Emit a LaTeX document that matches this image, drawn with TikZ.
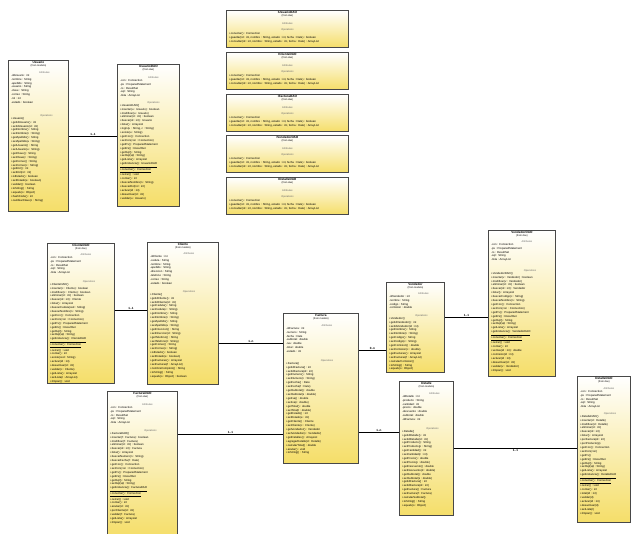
\documentclass[tikz,border=0pt]{standalone}
\usepackage{fontspec}
\setmainfont{Liberation Sans}
\usetikzlibrary{positioning}
\definecolor{umlyellow}{RGB}{245,222,105}
\definecolor{umlborder}{RGB}{72,72,72}

\begin{document}
\begin{tikzpicture}[
  x=1pt, y=-1pt,
  class box/.style={
    draw=umlborder,
    line width=0.9pt,
    top color=white,
    bottom color=umlyellow,
    inner sep=0pt,
    anchor=north west,
  },
  class name/.style={
    font=\fontsize{3.1}{3.6}\selectfont\bfseries,
    inner sep=0pt,
  },
  class from/.style={
    font=\fontsize{2.5}{3}\selectfont,
    inner sep=0pt,
  },
  members/.style={
    font=\fontsize{2.8}{3.9}\selectfont,
    align=left,
    anchor=north west,
    inner sep=0pt,
  },
  section label/.style={
    font=\fontsize{2.5}{3}\selectfont,
    text=black!60,
    anchor=south,
    inner sep=0pt,
  },
  assoc/.style={draw=black, line width=0.6pt},
  mult/.style={font=\fontsize{3}{3.5}\selectfont\bfseries, inner sep=0.6pt},
  ]
  \useasboundingbox (0,0) rectangle (631,533);
  \clip (0,0) rectangle (631,533);

  % Usuario and its DAO
  \node[class box,minimum width=60pt,minimum height=151pt] (usuario) at (8,60) {};
  \node[class name,below=1.5pt of usuario.north] (usuario-name) {Usuario};
  \node[class from,below=0.8pt of usuario-name] {(from modelo)};
  \node[section label] at ([shift={(6pt,-14pt)}]usuario.north) {Attributes};
  \node[members] (usuario-attr) at ([shift={(3pt,-14pt)}]usuario.north west)
  {-idUsuario : int\\-nombre : String\\-apellido : String\\-usuario : String\\
   -clave : String\\-correo : String\\-rol : int\\-estado : boolean};
  \node[section label] at ([shift={(8pt,-57pt)}]usuario.north) {Operations};
  \node[members] (usuario-ops) at ([shift={(3pt,-57pt)}]usuario.north west)
  {+Usuario()\\+getIdUsuario() : int\\+setIdUsuario(id : int)\\+getNombre() : String\\
   +setNombre(n : String)\\+getApellido() : String\\+setApellido(a : String)\\
   +getUsuario() : String\\+setUsuario(u : String)\\+getClave() : String\\
   +setClave(c : String)\\+getCorreo() : String\\+setCorreo(c : String)\\
   +getRol() : int\\+setRol(rol : int)\\+isEstado() : boolean\\+setEstado(e : boolean)\\
   +validar() : boolean\\+toString() : String\\+equals(o : Object)\\+hashCode() : int\\
   +cambiarClave(c : String)};

  \node[class box,minimum width=62pt,minimum height=142pt] (usuario-dao) at (117,64) {};
  \node[class name,below=1.5pt of usuario-dao.north] (usuario-dao-name) {UsuarioDAO};
  \node[class from,below=0.8pt of usuario-dao-name] {(from dao)};
  \node[section label] at ([shift={(5pt,-15pt)}]usuario-dao.north) {Attributes};
  \node[members] at ([shift={(3pt,-15pt)}]usuario-dao.north west)
  {-con : Connection\\-ps : PreparedStatement\\-rs : ResultSet\\-sql : String\\-lista : ArrayList};
  \node[section label] at ([shift={(5pt,-40pt)}]usuario-dao.north) {Operations};
  \node[members] at ([shift={(3pt,-40pt)}]usuario-dao.north west)
  {+UsuarioDAO()\\+insertar(u : Usuario) : boolean\\+modificar(u : Usuario)\\
   +eliminar(id : int) : boolean\\+buscar(id : int) : Usuario\\+listar() : ArrayList\\
   +login(u : String, c : String)\\+existe(u : String)\\+getCon() : Connection\\
   +setCon(con : Connection)\\+getPs() : PreparedStatement\\+getRs() : ResultSet\\
   +getSql() : String\\+setSql(sql : String)\\+getLista() : ArrayList\\
   \underline{+getInstancia() : UsuarioDAO}\\\underline{+conectar() : Connection}\\
   +cerrar() : void\\+contar() : int\\+buscarNombre(n : String)\\+buscarRol(rol : int)\\
   +activar(id : int)\\+desactivar(id : int)\\+validar(u : Usuario)};

  % interfaces
  \node[class box,minimum width=122pt,minimum height=37pt] (iusuario) at (226,10) {};
  \node[class box,minimum width=122pt,minimum height=37pt] (icliente) at (226,52) {};
  \node[class box,minimum width=122pt,minimum height=37pt] (ifactura) at (226,94) {};
  \node[class box,minimum width=122pt,minimum height=37pt] (ivendedor) at (226,135) {};
  \node[class box,minimum width=122pt,minimum height=37pt] (idetalle) at (226,177) {};
  \foreach \iface/\cls in {iusuario/Usuario,icliente/Cliente,ifactura/Factura,ivendedor/Vendedor,idetalle/Detalle}{
    \node[class name,below=1.5pt of \iface.north] (\iface-name) {I\cls DAO};
    \node[class from,below=0.8pt of \iface-name] {(from dao)};
    \node[section label] at ([shift={(0pt,-15pt)}]\iface.north) {Attributes};
    \node[section label] at ([shift={(0pt,-21pt)}]\iface.north) {Operations};
    \node[members] at ([shift={(3pt,-22.5pt)}]\iface.north west)
    {+conectar() : Connection\\
     +guardar(id : int, nombre : String, estado : int, fecha : Date) : boolean\\
     +consultar(id : int, nombre : String, estado : int, fecha : Date) : ArrayList};
  }

  % Cliente and its DAO
  \node[class box,minimum width=67pt,minimum height=140pt] (cliente-dao) at (47,243) {};
  \node[class name,below=1.5pt of cliente-dao.north] (cliente-dao-name) {ClienteDAO};
  \node[class from,below=0.8pt of cliente-dao-name] {(from dao)};
  \node[section label] at ([shift={(5pt,-13pt)}]cliente-dao.north) {Attributes};
  \node[members] at ([shift={(3pt,-13pt)}]cliente-dao.north west)
  {-con : Connection\\-ps : PreparedStatement\\-rs : ResultSet\\-sql : String\\-lista : ArrayList};
  \node[section label] at ([shift={(8pt,-40pt)}]cliente-dao.north) {Operations};
  \node[members] at ([shift={(3pt,-40pt)}]cliente-dao.north west)
  {+ClienteDAO()\\+insertar(c : Cliente) : boolean\\+modificar(c : Cliente) : boolean\\
   +eliminar(id : int) : boolean\\+buscar(id : int) : Cliente\\+listar() : ArrayList\\
   +buscarCedula(ced : String)\\+buscarNombre(n : String)\\+getCon() : Connection\\
   +setCon(con : Connection)\\+getPs() : PreparedStatement\\+getRs() : ResultSet\\
   +getSql() : String\\+setSql(sql : String)\\
   \underline{+getInstancia() : ClienteDAO}\\\underline{+conectar() : Connection}\\
   +cerrar() : void\\+contar() : int\\+existe(ced : String)\\+activar(id : int)\\
   +desactivar(id : int)\\+validar(c : Cliente)\\+getLista() : ArrayList\\
   +setLista(l : ArrayList)\\+limpiar() : void};

  \node[class box,minimum width=71pt,minimum height=142pt] (cliente) at (147,242) {};
  \node[class name,below=1.5pt of cliente.north] (cliente-name) {Cliente};
  \node[class from,below=0.8pt of cliente-name] {(from modelo)};
  \node[section label] at ([shift={(6pt,-13pt)}]cliente.north) {Attributes};
  \node[members] at ([shift={(3pt,-13pt)}]cliente.north west)
  {-idCliente : int\\-cedula : String\\-nombre : String\\-apellido : String\\
   -direccion : String\\-telefono : String\\-correo : String\\-estado : boolean};
  \node[section label] at ([shift={(6pt,-51pt)}]cliente.north) {Operations};
  \node[members] at ([shift={(3pt,-51pt)}]cliente.north west)
  {+Cliente()\\+getIdCliente() : int\\+setIdCliente(id : int)\\+getCedula() : String\\
   +setCedula(c : String)\\+getNombre() : String\\+setNombre(n : String)\\
   +getApellido() : String\\+setApellido(a : String)\\+getDireccion() : String\\
   +setDireccion(d : String)\\+getTelefono() : String\\+setTelefono(t : String)\\
   +getCorreo() : String\\+setCorreo(c : String)\\+isEstado() : boolean\\
   +setEstado(e : boolean)\\+getFacturas() : ArrayList\\+setFacturas(f : ArrayList)\\
   +nombreCompleto() : String\\+toString() : String\\+equals(o : Object) : boolean};

  % Factura and its DAO
  \node[class box,minimum width=75pt,minimum height=150pt] (factura) at (283,313) {};
  \node[class name,below=1.5pt of factura.north] (factura-name) {Factura};
  \node[class from,below=0.8pt of factura-name] {(from modelo)};
  \node[section label] at ([shift={(6pt,-14pt)}]factura.north) {Attributes};
  \node[members] at ([shift={(3pt,-14pt)}]factura.north west)
  {-idFactura : int\\-numero : String\\-fecha : Date\\-subtotal : double\\
   -iva : double\\-total : double\\-estado : int};
  \node[section label] at ([shift={(6pt,-49pt)}]factura.north) {Operations};
  \node[members] at ([shift={(3pt,-49pt)}]factura.north west)
  {+Factura()\\+getIdFactura() : int\\+setIdFactura(id : int)\\+getNumero() : String\\
   +setNumero(n : String)\\+getFecha() : Date\\+setFecha(f : Date)\\
   +getSubtotal() : double\\+setSubtotal(s : double)\\+getIva() : double\\
   +setIva(i : double)\\+getTotal() : double\\+setTotal(t : double)\\
   +getEstado() : int\\+setEstado(e : int)\\+getCliente() : Cliente\\
   +setCliente(c : Cliente)\\+getVendedor() : Vendedor\\+setVendedor(v : Vendedor)\\
   +getDetalles() : ArrayList\\+agregarDetalle(d : Detalle)\\
   +calcularTotal() : double\\+anular() : void\\+toString() : String};

  \node[class box,minimum width=70pt,minimum height=145pt] (factura-dao) at (107,391) {};
  \node[class name,below=1.5pt of factura-dao.north] (factura-dao-name) {FacturaDAO};
  \node[class from,below=0.8pt of factura-dao-name] {(from dao)};
  \node[section label] at ([shift={(5pt,-15pt)}]factura-dao.north) {Attributes};
  \node[members] at ([shift={(3pt,-15pt)}]factura-dao.north west)
  {-con : Connection\\-ps : PreparedStatement\\-rs : ResultSet\\-sql : String\\-lista : ArrayList};
  \node[section label] at ([shift={(8pt,-41pt)}]factura-dao.north) {Operations};
  \node[members] at ([shift={(3pt,-41pt)}]factura-dao.north west)
  {+FacturaDAO()\\+insertar(f : Factura) : boolean\\+modificar(f : Factura)\\
   +eliminar(id : int) : boolean\\+buscar(id : int) : Factura\\+listar() : ArrayList\\
   +buscarNumero(n : String)\\+buscarFecha(f : Date)\\+getCon() : Connection\\
   +setCon(con : Connection)\\+getPs() : PreparedStatement\\+getRs() : ResultSet\\
   +getSql() : String\\+setSql(sql : String)\\
   \underline{+getInstancia() : FacturaDAO}\\\underline{+conectar() : Connection}\\
   +cerrar() : void\\+contar() : int\\+anular(id : int)\\+porCliente(id : int)\\
   +validar(f : Factura)\\+getLista() : ArrayList\\+limpiar() : void};

  % Vendedor and its DAO
  \node[class box,minimum width=58pt,minimum height=90pt] (vendedor) at (386,282) {};
  \node[class name,below=1.5pt of vendedor.north] (vendedor-name) {Vendedor};
  \node[class from,below=0.8pt of vendedor-name] {(from modelo)};
  \node[section label] at ([shift={(8pt,-13pt)}]vendedor.north) {Attributes};
  \node[members] at ([shift={(3pt,-13pt)}]vendedor.north west)
  {-idVendedor : int\\-nombre : String\\-codigo : String\\-comision : double};
  \node[section label] at ([shift={(6pt,-35pt)}]vendedor.north) {Operations};
  \node[members] at ([shift={(3pt,-35pt)}]vendedor.north west)
  {+Vendedor()\\+getIdVendedor() : int\\+setIdVendedor(id : int)\\+getNombre() : String\\
   +setNombre(n : String)\\+getCodigo() : String\\+setCodigo(c : String)\\
   +getComision() : double\\+setComision(c : double)\\+getFacturas() : ArrayList\\
   +setFacturas(f : ArrayList)\\+calcularComision()\\+toString() : String\\
   +equals(o : Object)};

  \node[class box,minimum width=67pt,minimum height=146pt] (vendedor-dao) at (488,230) {};
  \node[class name,below=1.5pt of vendedor-dao.north] (vendedor-dao-name) {VendedorDAO};
  \node[class from,below=0.8pt of vendedor-dao-name] {(from dao)};
  \node[section label] at ([shift={(5pt,-13pt)}]vendedor-dao.north) {Attributes};
  \node[members] at ([shift={(3pt,-13pt)}]vendedor-dao.north west)
  {-con : Connection\\-ps : PreparedStatement\\-rs : ResultSet\\-sql : String\\-lista : ArrayList};
  \node[section label] at ([shift={(8pt,-42pt)}]vendedor-dao.north) {Operations};
  \node[members] at ([shift={(3pt,-42pt)}]vendedor-dao.north west)
  {+VendedorDAO()\\+insertar(v : Vendedor) : boolean\\+modificar(v : Vendedor)\\
   +eliminar(id : int) : boolean\\+buscar(id : int) : Vendedor\\+listar() : ArrayList\\
   +buscarCodigo(c : String)\\+buscarNombre(n : String)\\+getCon() : Connection\\
   +setCon(con : Connection)\\+getPs() : PreparedStatement\\+getRs() : ResultSet\\
   +getSql() : String\\+setSql(sql : String)\\+getLista() : ArrayList\\
   \underline{+getInstancia() : VendedorDAO}\\\underline{+conectar() : Connection}\\
   +cerrar() : void\\+contar() : int\\+ventas(id : int) : double\\+comision(id : int)\\
   +activar(id : int)\\+desactivar(id : int)\\+validar(v : Vendedor)\\+limpiar() : void};

  % Detalle and its DAO
  \node[class box,minimum width=54pt,minimum height=134pt] (detalle) at (399,381) {};
  \node[class name,below=1.5pt of detalle.north] (detalle-name) {Detalle};
  \node[class from,below=0.8pt of detalle-name] {(from modelo)};
  \node[section label] at ([shift={(8pt,-14pt)}]detalle.north) {Attributes};
  \node[members] at ([shift={(3pt,-14pt)}]detalle.north west)
  {-idDetalle : int\\-producto : String\\-cantidad : int\\-precio : double\\
   -descuento : double\\-subtotal : double\\-idFactura : int};
  \node[section label] at ([shift={(6pt,-49pt)}]detalle.north) {Operations};
  \node[members] at ([shift={(3pt,-49pt)}]detalle.north west)
  {+Detalle()\\+getIdDetalle() : int\\+setIdDetalle(id : int)\\+getProducto() : String\\
   +setProducto(p : String)\\+getCantidad() : int\\+setCantidad(c : int)\\
   +getPrecio() : double\\+setPrecio(p : double)\\+getDescuento() : double\\
   +setDescuento(d : double)\\+getSubtotal() : double\\+setSubtotal(s : double)\\
   +getIdFactura() : int\\+setIdFactura(id : int)\\+getFactura() : Factura\\
   +setFactura(f : Factura)\\+calcularSubtotal()\\+toString() : String\\
   +equals(o : Object)};

  \node[class box,minimum width=53pt,minimum height=146pt] (detalle-dao) at (577,376) {};
  \node[class name,below=1.5pt of detalle-dao.north] (detalle-dao-name) {DetalleDAO};
  \node[class from,below=0.8pt of detalle-dao-name] {(from dao)};
  \node[section label] at ([shift={(5pt,-14pt)}]detalle-dao.north) {Attributes};
  \node[members] at ([shift={(3pt,-14pt)}]detalle-dao.north west)
  {-con : Connection\\-ps : PreparedStatement\\-rs : ResultSet\\-sql : String\\-lista : ArrayList};
  \node[section label] at ([shift={(6pt,-39pt)}]detalle-dao.north) {Operations};
  \node[members] at ([shift={(3pt,-39pt)}]detalle-dao.north west)
  {+DetalleDAO()\\+insertar(d : Detalle)\\+modificar(d : Detalle)\\
   +eliminar(id : int)\\+buscar(id : int)\\+listar() : ArrayList\\
   +porFactura(id : int)\\+porProducto(p)\\+getCon() : Connection\\
   +setCon(con)\\+getPs()\\+getRs() : ResultSet\\
   +getSql() : String\\+setSql(sql : String)\\+getLista() : ArrayList\\
   \underline{+getInstancia() : DetalleDAO}\\\underline{+conectar() : Connection}\\
   +cerrar() : void\\+contar() : int\\+total(id : int)\\+validar(d)\\
   +activar(id : int)\\+desactivar(id)\\+setLista(l)\\+limpiar() : void};

  % associations
  \draw[assoc] (usuario.east) -- (usuario.east -| usuario-dao.west)
    node[mult,midway,above] {1..1};
  \draw[assoc] ([yshift=3pt]cliente-dao.east) -- ([yshift=3pt]cliente-dao.east -| cliente.west)
    node[mult,midway,above] {1..1};
  \draw[assoc] ([yshift=-30pt]cliente.east) -- ([yshift=-30pt]cliente.east -| factura.west)
    node[mult,midway,above] {1..n};
  \draw[assoc] ([yshift=29.5pt]factura-dao.east) -- ([yshift=29.5pt]factura-dao.east -| factura.west)
    node[mult,midway,above] {1..1};
  \draw[assoc] ([yshift=38pt]factura.east) -- ([yshift=38pt]factura.east -| vendedor.west)
    node[mult,midway,above] {0..n};
  \draw[assoc] ([yshift=-44pt]factura.east) -- ([yshift=-44pt]factura.east -| detalle.west)
    node[mult,midway,above] {1..n};
  \draw[assoc] ([yshift=10pt]vendedor.east) -- ([yshift=10pt]vendedor.east -| vendedor-dao.west)
    node[mult,midway,above] {1..1};
  \draw[assoc] (detalle.east) -- (detalle.east -| detalle-dao.west)
    node[mult,midway,below] {1..1};
\end{tikzpicture}
\end{document}
